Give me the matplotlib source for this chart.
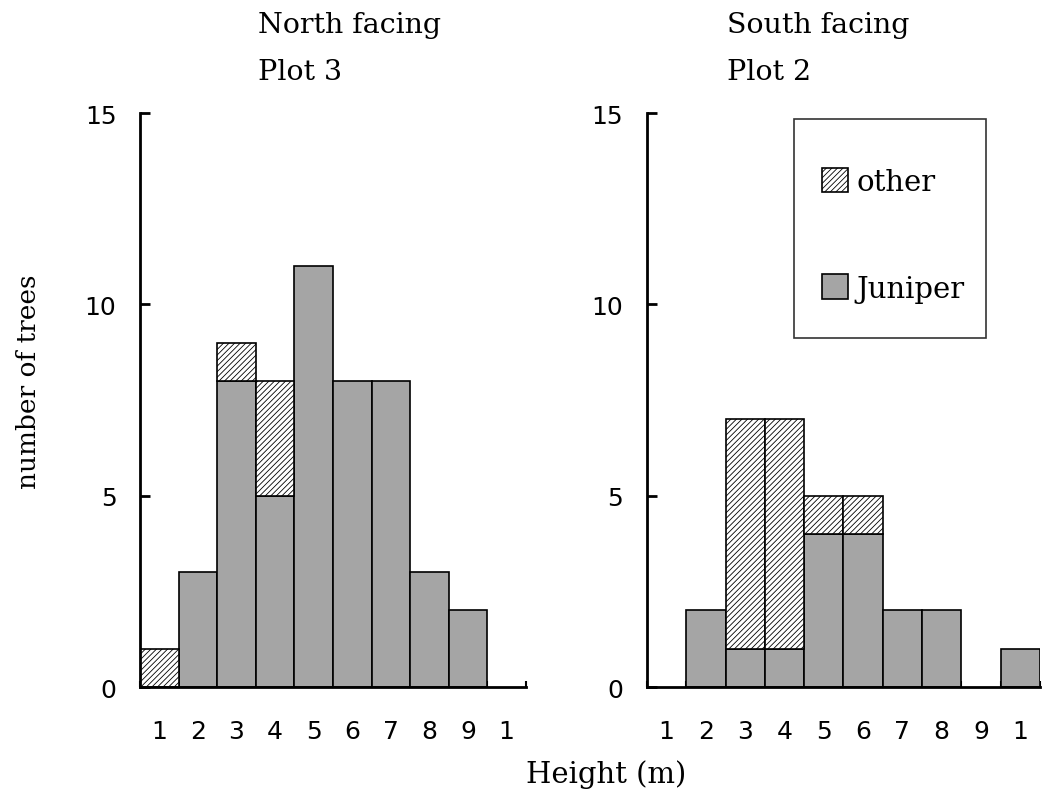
import numpy as np
import matplotlib.pyplot as plt
from matplotlib.patches import Rectangle

plt.rcParams['hatch.linewidth'] = 0.6

heights = np.arange(1, 11)
tick_labels = ['1', '2', '3', '4', '5', '6', '7', '8', '9', '1']

north_juniper = [0, 3, 8, 5, 11, 8, 8, 3, 2, 0]
north_other = [1, 0, 1, 3, 0, 0, 0, 0, 0, 0]
south_juniper = [0, 2, 1, 1, 4, 4, 2, 2, 0, 1]
south_other = [0, 0, 6, 6, 1, 1, 0, 0, 0, 0]

serif = 'DejaVu Serif'
gray = '#a5a5a5'

fig = plt.figure(figsize=(10.44, 8.03), dpi=100)
ax1 = fig.add_axes([0.1341, 0.1432, 0.3697, 0.7148])
ax2 = fig.add_axes([0.6197, 0.1432, 0.3764, 0.7148])


def draw(ax, jun, oth):
    jun = np.array(jun)
    oth = np.array(oth)
    m = jun > 0
    ax.bar(heights[m], jun[m], width=1.0, color=gray, edgecolor='black',
           linewidth=1.2, label='Juniper', zorder=2)
    m2 = oth > 0
    ax.bar(heights[m2], oth[m2], width=1.0, bottom=jun[m2], color='white',
           edgecolor='black', hatch='//////', linewidth=1.2, label='other', zorder=2)
    ax.set_xlim(0.5, 10.5)
    ax.set_ylim(0, 15)
    for s in ['top', 'right']:
        ax.spines[s].set_visible(False)
    for s in ['left', 'bottom']:
        ax.spines[s].set_linewidth(2)
        ax.spines[s].set_zorder(3)
    ax.set_yticks([0, 5, 10, 15])
    ax.tick_params(axis='y', direction='in', length=7, width=2, labelsize=18, pad=17)
    ax.set_xticks(np.arange(0.5, 11, 1))
    ax.set_xticklabels([])
    ax.tick_params(axis='x', which='major', direction='in', length=4, width=1.5)
    ax.set_xticks(heights, minor=True)
    ax.set_xticklabels(tick_labels, minor=True)
    ax.tick_params(axis='x', which='minor', length=0, labelsize=18, pad=23)


draw(ax1, north_juniper, north_other)
draw(ax2, south_juniper, south_other)

fig.text(0.247, 0.959, 'North facing', fontsize=20.5, family=serif, va='baseline')
fig.text(0.247, 0.900, 'Plot 3', fontsize=20.5, family=serif, va='baseline')
fig.text(0.696, 0.959, 'South facing', fontsize=20.5, family=serif, va='baseline')
fig.text(0.696, 0.900, 'Plot 2', fontsize=20.5, family=serif, va='baseline')

# legend frame drawn separately so the padding can differ per side
ax2.add_patch(Rectangle((0.374, 0.608), 0.489, 0.3815, transform=ax2.transAxes,
                        facecolor='white', edgecolor='#333333', linewidth=1.2,
                        zorder=4, clip_on=False))
h, l = ax2.get_legend_handles_labels()
leg = ax2.legend(h[::-1], l[::-1], loc='upper left', bbox_to_anchor=(0.445, 0.905),
                 borderaxespad=0, borderpad=0, frameon=False,
                 prop={'family': serif, 'size': 21}, handlelength=0.9,
                 handleheight=0.9, handletextpad=0.3, labelspacing=2.7)
leg.set_zorder(5)

fig.text(0.027, 0.524, 'number of trees', rotation=90, va='center', ha='center',
         fontsize=19, family=serif)
fig.text(0.581, 0.0249, 'Height (m)', ha='center', va='baseline', fontsize=21, family=serif)

plt.savefig('out.png')
